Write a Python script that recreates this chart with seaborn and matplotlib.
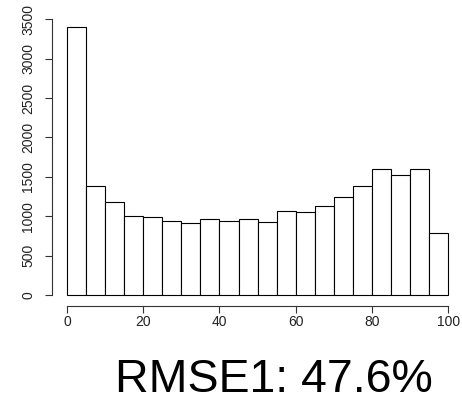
import numpy as np
import pandas as pd
import matplotlib
matplotlib.use("Agg")
import matplotlib.pyplot as plt
import seaborn as sns

# Histogram counts per 5-unit bin on [0, 100]
bin_edges = [0, 5, 10, 15, 20, 25, 30, 35, 40, 45, 50,
             55, 60, 65, 70, 75, 80, 85, 90, 95, 100]
counts = [3400, 1390, 1176, 998, 990, 935, 910, 960, 943, 960,
          922, 1062, 1049, 1125, 1244, 1387, 1595, 1519, 1595, 783]
x_ticks = [0, 20, 40, 60, 80, 100]
y_ticks = [0, 500, 1000, 1500, 2000, 2500, 3000, 3500]
title = "RMSE1: 47.6%"

sns.set_style("white")
plt.rcParams["font.family"] = ["Liberation Sans", "DejaVu Sans"]

centers = [(a + b) / 2 for a, b in zip(bin_edges[:-1], bin_edges[1:])]
df = pd.DataFrame({"value": centers, "count": counts})

fig = plt.figure(figsize=(4.62, 4.03), dpi=100)
ax = fig.add_axes([0.112, 0.2414, 0.891, 0.7176])

sns.histplot(data=df, x="value", weights="count", bins=bin_edges,
             color="white", edgecolor="black", linewidth=0.8, alpha=1,
             ax=ax)

ax.set_xlim(-4, 104)
ax.set_ylim(-136, 3536)
ax.set_xlabel("")
ax.set_ylabel("")

for side in ("top", "right"):
    ax.spines[side].set_visible(False)
ax.spines["left"].set_bounds(0, 3500)
ax.spines["bottom"].set_bounds(0, 100)
for side in ("left", "bottom"):
    ax.spines[side].set_color("#333333")
    ax.spines[side].set_linewidth(0.8)

ax.set_xticks(x_ticks)
ax.set_xticklabels([str(v) for v in x_ticks])
ax.set_yticks(y_ticks)
ax.set_yticklabels([str(v) for v in y_ticks], rotation=90, va="center")
ax.tick_params(axis="both", direction="out", length=5, width=0.8,
               color="#333333", labelsize=10, labelcolor="#222222",
               left=True, bottom=True)
ax.tick_params(axis="y", pad=7)
ax.tick_params(axis="x", pad=2)

fig.text(274 / 462, (403 - 380) / 403, title, ha="center", va="center",
         fontsize=33.5, color="black")

fig.savefig("out.png", dpi=100)
